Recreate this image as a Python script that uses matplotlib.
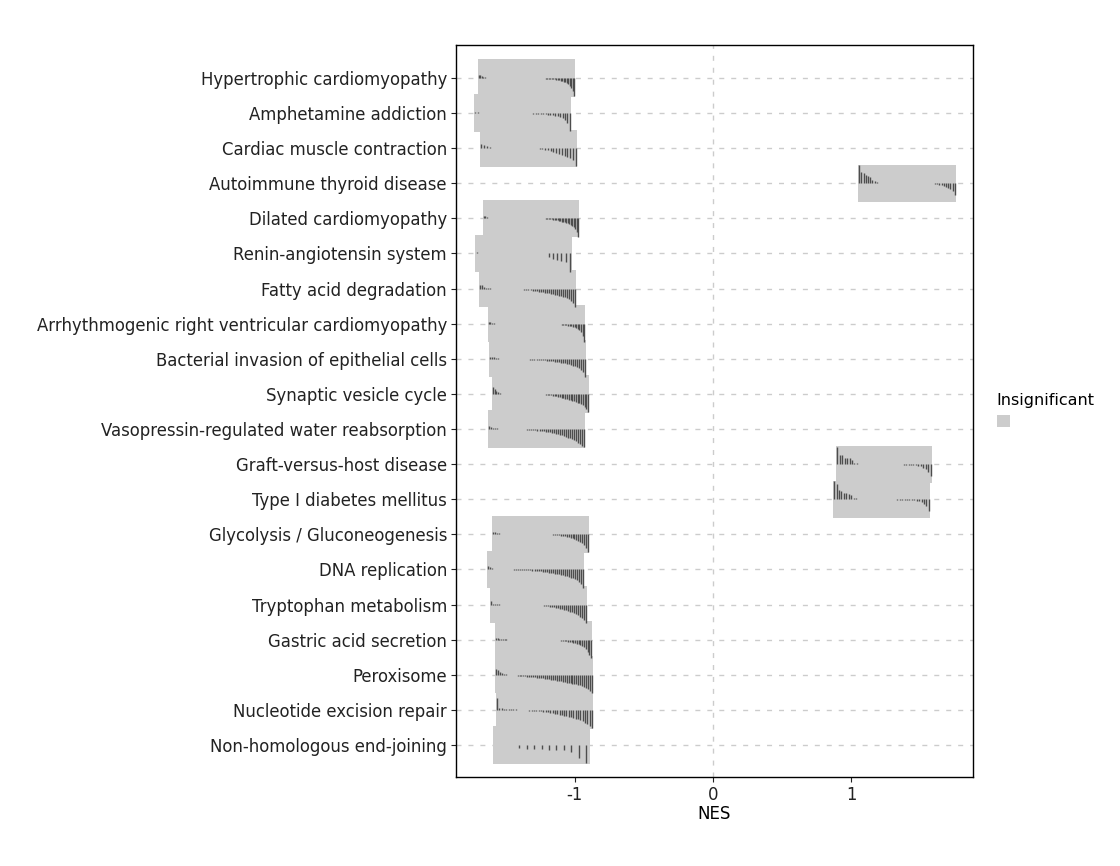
import matplotlib
matplotlib.use("Agg")
import matplotlib.pyplot as plt
from matplotlib.collections import LineCollection
from matplotlib.patches import Rectangle, Patch

plt.rcParams['font.family'] = ['DejaVu Sans']
plt.rcParams['axes.unicode_minus'] = False

# pathways, top to bottom
pathways = [
    "Hypertrophic cardiomyopathy",
    "Amphetamine addiction",
    "Cardiac muscle contraction",
    "Autoimmune thyroid disease",
    "Dilated cardiomyopathy",
    "Renin-angiotensin system",
    "Fatty acid degradation",
    "Arrhythmogenic right ventricular cardiomyopathy",
    "Bacterial invasion of epithelial cells",
    "Synaptic vesicle cycle",
    "Vasopressin-regulated water reabsorption",
    "Graft-versus-host disease",
    "Type I diabetes mellitus",
    "Glycolysis / Gluconeogenesis",
    "DNA replication",
    "Tryptophan metabolism",
    "Gastric acid secretion",
    "Peroxisome",
    "Nucleotide excision repair",
    "Non-homologous end-joining",
]

# NES range covered by each box
nes_lo = [-1.697, -1.726, -1.682, 1.047, -1.661, -1.718, -1.690, -1.625, -1.617, -1.596,
          -1.625, 0.888, 0.866, -1.596, -1.632, -1.610, -1.574, -1.574, -1.567, -1.588]
nes_hi = [-0.996, -1.025, -0.982, 1.755, -0.968, -1.018, -0.989, -0.924, -0.917, -0.895,
          -0.924, 1.581, 1.567, -0.895, -0.931, -0.910, -0.874, -0.866, -0.866, -0.888]

# genes in each set (ranked)
n_genes = [65, 40, 35, 44, 65, 23, 48, 60, 48, 55, 48, 39, 40, 50, 48, 48, 55, 50, 42, 13]

# scores of the top-ranked genes (positive side)
up_scores = [
    [3, 2.5, 1.5, 1, 0.5],
    [1, 0.7, 0.5, 0.3],
    [4, 3, 2, 1],
    [18, 11, 10, 8, 7, 6, 3.5, 2, 1, 0.5, 0.3, 0.2],
    [2.5, 2, 1.2, 0.6],
    [1],
    [4, 3.5, 2, 1, 0.7, 0.5],
    [2, 1.5, 1, 0.5],
    [2, 2, 1.5, 1, 0.5],
    [7, 5, 3, 1.5, 0.5],
    [3, 2, 1.5, 1, 0.7, 0.5],
    [17, 9, 9, 6.3, 6.3, 5.7, 4, 1.3, 0.8, 0.6, 0.5, 0.4, 0.3, 0.3],
    [18, 15, 9, 8.7, 6.3, 6.3, 5.7, 4, 1.3, 0.8, 0.6, 0.5, 0.4, 0.3, 0.3],
    [2.5, 2, 1.5, 1, 0.7, 0.5, 0.3],
    [3, 2, 1, 0.5, 0.4, 0.3],
    [4, 1, 0.7, 0.5, 0.3],
    [1.5, 1.2, 1, 0.8, 0.6, 0.5, 0.4],
    [6, 4.5, 3, 2, 1, 0.5],
    [12, 2, 1.7, 1.4, 1.2, 1, 0.8, 0.6, 0.5],
    [0.5, 0, 0.3],
]

# scores of the bottom-ranked genes (negative side, magnitudes)
down_scores = [
    [0.3, 0.4, 0.5, 0.6, 0.7, 0.8, 1, 1.1, 1.3, 1.5, 1.7, 2, 2.3, 2.7, 3.2, 3.8, 4.5, 5.5,
     6.5, 8, 10, 13, 18],
    [0.3, 0.4, 0.5, 0.6, 0.7, 0.8, 1, 1.2, 1.5, 1.8, 2.2, 2.7, 3.3, 4, 5, 7, 10, 18],
    [0.5, 1, 1.5, 2, 3, 3.5, 4.5, 5.5, 6.5, 7.5, 8.5, 10, 12, 18],
    [0.7, 1, 1.5, 2, 2.5, 3.5, 4.5, 6, 8, 12],
    [0.3, 0.5, 0.7, 0.9, 1.1, 1.3, 1.5, 1.8, 2.1, 2.4, 2.8, 3.2, 3.6, 4, 4.5, 5, 5.7, 6.5,
     7.5, 9, 11, 14, 19],
    [3, 5, 6, 7, 8, 18],
    [0.3, 0.5, 0.7, 1, 1.2, 1.5, 1.8, 2.1, 2.4, 2.7, 3, 3.3, 3.7, 4, 4.4, 4.8, 5.2, 5.6, 6,
     6.5, 7, 7.5, 8, 8.7, 9.5, 10.5, 12, 14, 18],
    [0.3, 0.5, 0.7, 0.9, 1.1, 1.3, 1.6, 1.9, 2.2, 2.6, 3, 3.5, 4.2, 5, 6.5, 8.5, 12, 18],
    [0.2, 0.3, 0.4, 0.5, 0.6, 0.7, 0.8, 0.9, 1, 1.1, 1.2, 1.4, 1.6, 1.8, 2, 2.2, 2.5, 2.8,
     3.1, 3.4, 3.8, 4.2, 4.6, 5, 5.5, 6, 6.7, 7.5, 8.5, 9.5, 11, 13, 18],
    [0.3, 0.6, 0.9, 1.2, 1.5, 1.8, 2.1, 2.5, 2.9, 3.3, 3.7, 4.1, 4.6, 5.1, 5.6, 6.1, 6.7,
     7.3, 8, 8.7, 9.5, 10.5, 11.5, 13, 15, 18],
    [0.3, 0.5, 0.7, 0.9, 1.1, 1.3, 1.5, 1.8, 2.1, 2.4, 2.7, 3, 3.4, 3.8, 4.2, 4.7, 5.2, 5.7,
     6.3, 7, 7.7, 8.5, 9.3, 10.2, 11.2, 12.3, 13.5, 15, 16.5, 18],
    [0.8, 1, 1, 1, 1, 1.2, 1.5, 2, 3.5, 5, 8, 12],
    [0.5, 0.6, 0.7, 0.8, 0.9, 1, 1, 1.2, 1.5, 2, 3, 4.5, 7, 12],
    [0.3, 0.5, 0.8, 1, 1.3, 1.6, 2, 2.4, 2.9, 3.4, 4, 4.7, 5.5, 6.5, 7.7, 9, 11, 14, 18],
    [0.2, 0.3, 0.4, 0.5, 0.6, 0.7, 0.8, 0.9, 1, 1.2, 1.4, 1.6, 1.8, 2, 2.3, 2.6, 2.9, 3.2,
     3.5, 3.8, 4.1, 4.5, 4.9, 5.3, 5.8, 6.3, 6.8, 7.4, 8, 8.7, 9.5, 10.5, 12, 14, 18],
    [0.3, 0.6, 0.9, 1.2, 1.5, 1.8, 2.1, 2.5, 2.9, 3.3, 3.7, 4.1, 4.6, 5.1, 5.6, 6.2, 6.9,
     7.6, 8.5, 9.5, 10.7, 12, 13.5, 15.5, 18],
    [0.3, 0.5, 0.7, 0.9, 1.1, 1.3, 1.6, 1.9, 2.2, 2.5, 2.9, 3.3, 3.8, 4.4, 5, 6, 7.5, 9.5,
     12, 15, 18],
    [0.2, 0.3, 0.4, 0.5, 0.6, 0.8, 1.0, 1.2, 1.4, 1.6, 1.8, 2.0, 2.2, 2.4, 2.6, 2.7, 3.0,
     3.3, 3.6, 3.9, 4.2, 4.5, 4.8, 5.0, 5.4, 5.8, 6.2, 6.6, 7.0, 7.4, 7.8, 8.0, 8.3, 8.7,
     9.1, 9.5, 10, 10.5, 11, 11.7, 13, 14.5, 16, 18],
    [0.1, 0.2, 0.3, 0.4, 0.5, 0.6, 0.7, 0.8, 1.0, 1.2, 1.5, 1.8, 2.1, 2.5, 2.9, 3.3, 3.8,
     4.3, 4.8, 5.3, 5.8, 6.3, 6.8, 7.4, 8, 8.7, 9.5, 10.5, 11.5, 13, 14.5, 16, 18],
    [3.3, 4, 4, 4, 4.7, 4.7, 5.3, 6.7, 13, 18],
]

score_to_row = 1 / 35.0
box_half = 0.53

fig = plt.figure(figsize=(11.2, 8.66), dpi=100)
ax = fig.add_axes([0.4071, 0.1028, 0.4616, 0.8453])

n = len(pathways)
rows = list(range(n, 0, -1))

dash = (0, (3.6, 5.0))
for r in rows:
    ax.axhline(r, color='#cccccc', lw=1.0, ls=dash, zorder=0)
ax.axvline(0, color='#cccccc', lw=1.0, ls=dash, zorder=0)

for i, name in enumerate(pathways):
    r = rows[i]
    lo, hi = nes_lo[i], nes_hi[i]
    ax.add_patch(Rectangle((lo, r - box_half), hi - lo, 2 * box_half,
                           facecolor='#cccccc', edgecolor='none', zorder=1 + i * 0.01))
    ng = n_genes[i]
    up = up_scores[i]
    dn = down_scores[i]
    scores = up + [0] * (ng - len(up) - len(dn)) + [-d for d in dn]
    segs = []
    for k, s in enumerate(scores):
        if s == 0:
            continue
        x = lo + (k + 0.5) / ng * (hi - lo)
        segs.append([(x, r), (x, r + s * score_to_row)])
    ax.add_collection(LineCollection(segs, colors='#4d4d4d', linewidths=1.0,
                                     zorder=1.5 + i * 0.01))

ax.set_xlim(-1.856, 1.877)
ax.set_ylim(0.09, n + 0.94)
ax.set_xticks([-1, 0, 1])
ax.set_xticklabels(['-1', '0', '1'])
ax.set_yticks(rows)
ax.set_yticklabels(pathways)
ax.tick_params(axis='both', labelsize=11.9, length=3.5, width=0.8, colors='#222222', pad=3)
ax.set_xlabel('NES', fontsize=12, labelpad=1)
for sp in ax.spines.values():
    sp.set_linewidth(1.0)
    sp.set_color('black')

leg = ax.legend(handles=[Patch(facecolor='#cccccc', edgecolor='none')], labels=[''],
                title='Insignificant', loc='center left', bbox_to_anchor=(1.035, 0.5),
                frameon=False, handlelength=1.0, handleheight=1.0, handletextpad=0.2,
                borderaxespad=0, title_fontsize=11.5)
leg._legend_box.align = 'left'

fig.savefig('out.png', dpi=100)
